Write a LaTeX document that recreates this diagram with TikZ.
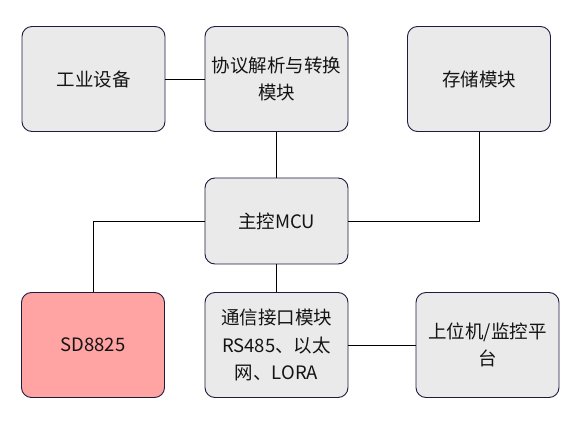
\documentclass[tikz,border=0pt]{standalone}
\usepackage{fontspec}
\setmainfont{Noto Sans CJK SC}
\definecolor{boxfill}{HTML}{EAEAEA}
\definecolor{boxdraw}{HTML}{1C1C40}
\definecolor{pinkfill}{HTML}{FFA3A3}
\begin{document}
\begin{tikzpicture}[x=1pt,y=-1pt,
  blk/.style={draw=boxdraw,line width=0.9pt,fill=boxfill,rounded corners=10pt,
    minimum width=143pt,minimum height=105pt,inner sep=0pt,align=center,
    font=\fontsize{18.5}{27.5}\selectfont,text=black!92},
  wire/.style={draw=black,line width=0.9pt}]
\useasboundingbox (0,0) rectangle (579,425);
\node[blk] (A) at (93.5,79) {工业设备};
\node[blk] (B) at (276.5,79) {协议解析与转换\\模块};
\node[blk] (C) at (479,79) {存储模块};
\node[blk,minimum height=86pt] (D) at (276.5,221) {主控MCU};
\node[blk,fill=pinkfill] (E) at (93,345) {SD8825};
\node[blk] (F) at (276.5,345) {通信接口模块\\RS485、以太\\网、LORA};
\node[blk] (G) at (487.5,345) {上位机/监控平\\台};
\draw[wire] (A.east) -- (B.west);
\draw[wire] (B.south) -- (D.north);
\draw[wire] (C.south) |- (D.east);
\draw[wire] (D.west) -| (E.north);
\draw[wire] (D.south) -- (F.north);
\draw[wire] (F.east) -- (G.west);
\end{tikzpicture}
\end{document}
